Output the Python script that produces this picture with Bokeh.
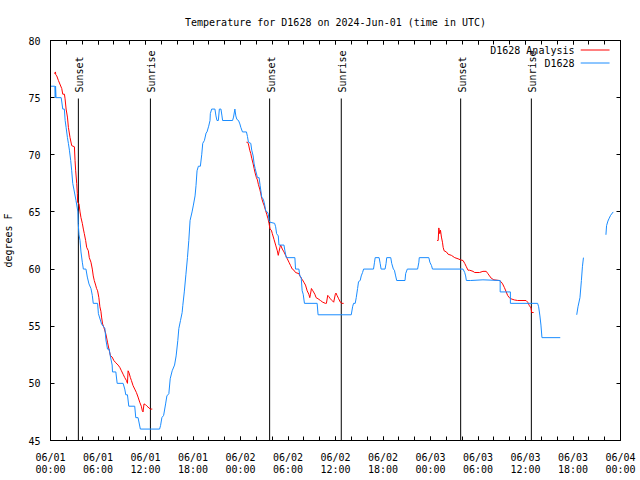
import math
from bokeh.plotting import figure
from bokeh.models import LinearAxis, FixedTicker, Range1d
from bokeh.core.properties import value
from bokeh.embed import file_html
from bokeh.resources import INLINE

NAN = float("nan")

title_text = "Temperature for D1628 on 2024-Jun-01 (time in UTC)"
y_label = "degrees F"

# hours since 2024-06-01 00:00 UTC
obs_hours = [0.00, 0.55, 0.60, 0.64, 0.70, 1.35, 1.55, 1.75, 1.85, 1.97, 2.14, 2.26, 2.39, 2.55, 2.68,
             2.81, 2.95, 3.22, 3.46, 3.50, 3.60, 3.73, 3.85, 4.02, 4.15, 4.48, 4.65, 4.86, 5.11, 5.28,
             5.40, 5.95, 6.05, 6.45, 6.87, 7.00, 7.20, 7.41, 7.58, 7.79, 7.83, 8.25, 8.42, 9.17, 9.38,
             9.51, 9.72, 9.89, 10.64, 10.77, 11.06, 11.35, 13.78, 13.90, 14.07, 14.29, 14.54, 14.70,
             14.95, 15.12, 15.37, 15.67, 15.87, 16.08, 16.21, 16.42, 16.63, 16.71, 16.90, 17.10, 17.30,
             17.47, 17.63, 17.88, 18.05, 18.26, 18.38, 18.51, 18.68, 18.93, 19.10, 19.23, 19.44, 19.65,
             19.77, 19.98, 20.15, 20.19, 20.36, 20.77, 20.90, 21.03, 21.20, 21.33, 21.53, 21.66, 21.74,
             23.00, 23.12, 23.29, 23.41, 23.54, 23.75, 23.92, 24.04, 24.25, 24.75, 24.88, 25.00, 25.30,
             25.42, 25.60, 25.72, 25.85, 26.14, 26.35, 26.48, 26.68, 26.89, 27.06, 27.18, 27.39, 27.52,
             27.60, 27.73, 28.31, 28.44, 28.56, 28.77, 28.86, 29.49, 29.61, 29.78, 30.87, 30.95, 31.37,
             31.50, 31.66, 31.79, 31.92, 32.08, 33.68, 33.80, 37.99, 38.16, 38.28, 38.49, 38.62, 38.79,
             38.91, 39.12, 39.25, 39.42, 39.55, 40.80, 40.93, 41.01, 41.51, 41.64, 41.76, 42.26, 42.39,
             42.47, 42.98, 43.10, 43.31, 43.44, 43.60, 43.73, 44.78, 44.86, 45.07, 46.37, 46.53, 46.58,
             47.79, 47.92, 48.13, 48.25, 52.11, 52.32, 52.44, 52.53, 53.07, 54.62, 56.80, 56.80, 58.09,
             58.09, 61.53, 61.66, 61.82, 61.95, 62.08, 64.39, 65.0,
             66.47, 66.63, 66.88, 67.06, 67.19, 67.32, 68.0,
             70.16, 70.24, 70.41, 70.54, 70.75, 71.08]
obs_temp = [76, 76, 75, 76, 75, 75, 74, 74, 73, 72.4, 71.5, 71, 70.4, 69.5, 68.6,
            67.5, 67, 66, 65, 64, 63, 62.5, 61.5, 60.6, 60, 60, 59.3, 58.7, 58.3, 57.7,
            57, 57, 56.1, 55.2, 54.8, 53.8, 53, 53, 52.3, 51.6, 51, 51, 50, 50, 49.5,
            49, 49, 48, 48, 47, 47, 46, 46, 46.3, 47, 47.2, 48.2, 48.9,
            49.1, 50.4, 51.1, 51.6, 52.4, 53.75, 54.8, 55.5, 56.2, 56.8, 58, 59.5, 61,
            62.5, 64.25, 65, 65.6, 66.4, 67.3, 68.6, 69, 69, 70, 71, 71.25, 71.9,
            72, 72.5, 73, 73.6, 74, 74, 73.4, 73, 73, 74, 74, 73.4, 73,
            73, 73.3, 74, 73.4, 73.1, 73, 72.7, 72.4, 72, 72, 71.6, 71.1, 71,
            70.4, 69.9, 69.2, 68.8, 68, 68, 67.3, 66.3, 66.1, 65.6, 65.1, 65, 64.8,
            64.25, 64.1, 64, 63.7, 63.1, 62.9, 62.1, 62.1, 61.6, 61, 61, 60, 60,
            59.4, 59.3, 58.1, 57.8, 57, 57, 56, 56, 56.7, 57, 57, 57.5, 58.3,
            58.9, 59, 59.4, 59.7, 60, 60, 60.6, 61, 61, 60.5, 60, 60, 60.5,
            61, 61, 60.5, 60, 59.9, 59.4, 59, 59, 59.6, 60, 60, 60.6, 61,
            61, 60.6, 60.3, 60, 60, 59.7, 59.4, 59, 59, 59.06, 59, 58, 58,
            57, 57, 56.7, 55.9, 55.1, 54, 54, NAN,
            56, 56.7, 57.5, 59, 60.2, 61, NAN,
            63, 63.8, 64.2, 64.4, 64.7, 65]

ana_hours = [0.50, 0.62, 0.67, 0.79, 1.00, 1.42, 1.55, 1.76, 1.84, 1.97, 2.14, 2.26, 2.47, 2.68, 3.02,
             3.10, 3.18, 3.31, 3.39, 3.43, 3.60, 3.73, 3.85, 4.02, 4.15, 4.27, 4.44, 4.57, 4.78, 4.90,
             5.11, 5.28, 5.40, 5.53, 5.70, 5.82, 5.95, 6.11, 6.24, 6.37, 6.45, 6.58, 6.74, 7.00, 7.20,
             7.41, 7.58, 7.79, 8.00, 8.25, 8.54, 8.75, 8.96, 9.17, 9.38, 9.59, 9.72, 9.80, 9.93, 10.09,
             10.22, 10.43, 10.64, 10.85, 11.06, 11.27, 11.47, 11.60, 11.69, 11.81, 11.98, 12.19, 12.44,
             12.60, 12.86, 18.0,
             24.75, 24.88, 25.00, 25.17, 25.30, 25.42, 25.60, 25.72, 25.85, 26.01, 26.14, 26.26, 26.43,
             26.55, 26.68, 26.85, 26.97, 27.18, 27.31, 27.48, 27.60, 27.73, 27.90, 28.02, 28.23, 28.44,
             28.65, 28.77, 28.86, 28.98, 29.07, 29.28, 29.49, 29.70, 29.91, 30.12, 30.33, 30.54, 30.75,
             30.95, 31.37, 31.58, 31.79, 32.00, 32.21, 32.42, 32.63, 32.75, 32.84, 32.96, 33.14, 33.39,
             33.55, 33.80, 34.10, 34.39, 34.72, 34.85, 35.02, 35.14, 35.35, 35.56, 35.77, 35.98, 36.06,
             36.19, 36.40, 36.61, 36.82, 37.03, 42.0,
             48.84, 48.97, 49.05, 49.17, 49.26, 49.38, 49.51, 49.60, 49.72, 50.01, 50.22, 50.64, 51.06,
             51.48, 51.81, 52.11, 52.32, 52.53, 52.74, 52.95, 53.37, 53.58, 54.20, 54.62, 55.04, 55.25,
             55.46, 55.67, 56.00, 56.68, 56.90, 57.11, 57.32, 57.53, 57.74, 57.95, 58.17, 58.59, 59.01,
             60.07, 60.28, 60.49, 60.70, 60.78, 61.03]
ana_temp = [77.1, 77.25, 77.0, 76.9, 76.5, 75.8, 75.3, 75.3, 74.9, 74.0, 73.3, 72.4, 71.5, 70.8, 70.7,
            69.5, 68.6, 67.5, 66.6, 65.85, 65.7, 65.0, 64.5, 64.0, 63.5, 63.1, 62.5, 61.9, 61.6, 61.0,
            60.6, 60.0, 59.4, 59.0, 58.6, 58.3, 58.1, 57.5, 56.7, 56.3, 55.8, 55.2, 54.9, 54.3, 53.6,
            52.9, 52.4, 52.3, 52.0, 51.8, 51.6, 51.4, 51.1, 50.8, 50.5, 50.25, 50.0, 51.1, 50.9, 50.5,
            50.25, 49.8, 49.5, 49.2, 48.8, 48.35, 48.0, 47.6, 47.5, 48.2, 48.15, 48.0, 47.85,
            47.75, 47.75, NAN,
            71.1, 71.1, 70.95, 70.4, 70.1, 69.7, 69.2, 68.8, 68.4, 68.0, 67.8, 67.4, 67.0,
            66.65, 66.2, 65.8, 65.6, 65.1, 64.8, 64.4, 64.0, 63.5, 63.4, 63.1, 62.6, 62.1,
            61.6, 61.2, 61.5, 61.9, 62.1, 61.75, 61.5, 61.2, 60.9, 60.6, 60.3, 60.0, 59.9,
            59.7, 59.6, 59.3, 59.1, 58.85, 58.6, 58.1, 57.8, 57.5, 57.8, 58.3, 58.1, 57.8,
            57.5, 57.4, 57.25, 57.1, 57.0, 57.0, 57.7, 57.6, 57.4, 57.25, 57.1, 57.8, 57.9,
            57.7, 57.4, 57.1, 57.0, 57.0, NAN,
            62.5, 62.5, 63.6, 63.1, 63.4, 62.8, 62.35, 61.9, 61.6, 61.5, 61.3, 61.2, 61.0,
            60.9, 60.8, 60.75, 60.5, 60.2, 59.9, 59.9, 59.8, 59.7, 59.7, 59.8, 59.8, 59.6,
            59.4, 59.2, 59.06, 59.0, 58.9, 58.7, 58.4, 58.06, 57.7, 57.5, 57.4, 57.3, 57.25,
            57.25, 57.1, 56.8, 56.6, 56.2, 56.2]

sun_hours = [3.52, 12.62, 27.68, 36.73, 51.81, 60.74]
sun_labels = ["Sunset", "Sunrise", "Sunset", "Sunrise", "Sunset", "Sunrise"]

tick_hours = [0, 6, 12, 18, 24, 30, 36, 42, 48, 54, 60, 66, 72]
tick_dates = ["06/01", "06/01", "06/01", "06/01", "06/02", "06/02", "06/02", "06/02",
              "06/03", "06/03", "06/03", "06/03", "06/04"]
tick_times = ["00:00", "06:00", "12:00", "18:00", "00:00", "06:00", "12:00", "18:00",
              "00:00", "06:00", "12:00", "18:00", "00:00"]
minor_hours = list(range(0, 73, 2))
y_ticks = [45, 50, 55, 60, 65, 70, 75, 80]

series_names = ["D1628 Analysis", "D1628"]
RED = "#ff0000"
BLUE = "#1a8cff"
MONO = "DejaVu Sans Mono"
FS = "10px"

X0, X1 = 0, 72
Y0, Y1 = 45, 80
FRAME_W, FRAME_H = 573, 400

p = figure(width=640, height=480, x_range=Range1d(X0, X1), y_range=Range1d(Y0, Y1),
           output_backend="svg", toolbar_location=None,
           x_axis_location=None, y_axis_location=None,
           min_border_left=47, min_border_right=20, min_border_top=40, min_border_bottom=40)
p.outline_line_color = "black"
p.outline_line_alpha = 1.0
p.outline_line_width = 1
p.background_fill_color = "white"
p.border_fill_color = "white"
p.xgrid.visible = False
p.ygrid.visible = False
p.grid.grid_line_color = None

p.title.text = title_text
p.title.align = "center"
p.title.text_font = MONO
p.title.text_font_size = FS
p.title.text_font_style = "normal"
p.title.text_color = "black"
p.title.standoff = 26

xt = FixedTicker(ticks=tick_hours, minor_ticks=minor_hours)
yt = FixedTicker(ticks=y_ticks, minor_ticks=[])


def style_ticks(ax):
    ax.axis_line_color = "black"
    ax.major_tick_in = 4
    ax.major_tick_out = 0
    ax.minor_tick_in = 4
    ax.minor_tick_out = 0
    ax.major_tick_line_color = "black"
    ax.minor_tick_line_color = "black"
    ax.major_label_text_font = MONO
    ax.major_label_text_font_size = FS
    ax.major_label_text_color = "black"


def hide_labels(ax, ticks):
    ax.major_label_overrides = {t: "" for t in ticks}
    ax.major_label_text_font_size = "0px"
    ax.major_label_standoff = 0


# bottom axis: ticks + date row
xb = LinearAxis(ticker=xt)
style_ticks(xb)
xb.major_label_overrides = {t: d for t, d in zip(tick_hours, tick_dates)}
xb.major_label_standoff = 11
p.add_layout(xb, "below")

# second label row: times
xb2 = LinearAxis(ticker=xt)
style_ticks(xb2)
xb2.axis_line_color = None
xb2.major_tick_line_color = None
xb2.minor_tick_line_color = None
xb2.major_tick_in = 0
xb2.minor_tick_in = 0
xb2.major_label_overrides = {t: s for t, s in zip(tick_hours, tick_times)}
xb2.major_label_standoff = -2
p.add_layout(xb2, "below")

# top mirror
xtop = LinearAxis(ticker=xt)
style_ticks(xtop)
hide_labels(xtop, tick_hours)
p.add_layout(xtop, "above")

# left axis
yl = LinearAxis(ticker=yt)
style_ticks(yl)
yl.minor_tick_line_color = None
yl.major_label_standoff = 10
yl.axis_label = y_label
yl.axis_label_text_font = MONO
yl.axis_label_text_font_size = FS
yl.axis_label_text_font_style = "normal"
yl.axis_label_text_color = "black"
yl.axis_label_standoff = 11
p.add_layout(yl, "left")

# right mirror
yr = LinearAxis(ticker=yt)
style_ticks(yr)
yr.minor_tick_line_color = None
hide_labels(yr, y_ticks)
p.add_layout(yr, "right")

px_x = (X1 - X0) / FRAME_W
px_y = (Y1 - Y0) / FRAME_H

# sunrise / sunset markers
line_top = Y1 - 58 * px_y
p.segment(x0=sun_hours, y0=[Y0] * len(sun_hours), x1=sun_hours, y1=[line_top] * len(sun_hours),
          line_color="black", line_width=1)
p.text(x=sun_hours, y=[Y1] * len(sun_hours), text=sun_labels, angle=math.pi / 2,
       x_offset=1.5, y_offset=52, text_align="left", text_baseline="middle",
       text_font=value(MONO), text_font_size=FS, text_color="black")

# data
p.line(ana_hours, ana_temp, line_color=RED, line_width=1)
p.line(obs_hours, obs_temp, line_color=BLUE, line_width=1)

# legend (gnuplot style: text left of sample)
for i, (name, col) in enumerate(zip(series_names, [RED, BLUE])):
    dy = 9.5 + 13 * i
    p.text(x=[X1], y=[Y1], text=[name], x_offset=-46, y_offset=dy,
           text_align="right", text_baseline="middle",
           text_font=value(MONO), text_font_size=FS, text_color="black")
    yy = Y1 - dy * px_y
    p.segment(x0=[X1 - 40 * px_x], y0=[yy], x1=[X1 - 11 * px_x], y1=[yy],
              line_color=col, line_width=1)

open("out.html", "w").write(file_html(p, INLINE))
